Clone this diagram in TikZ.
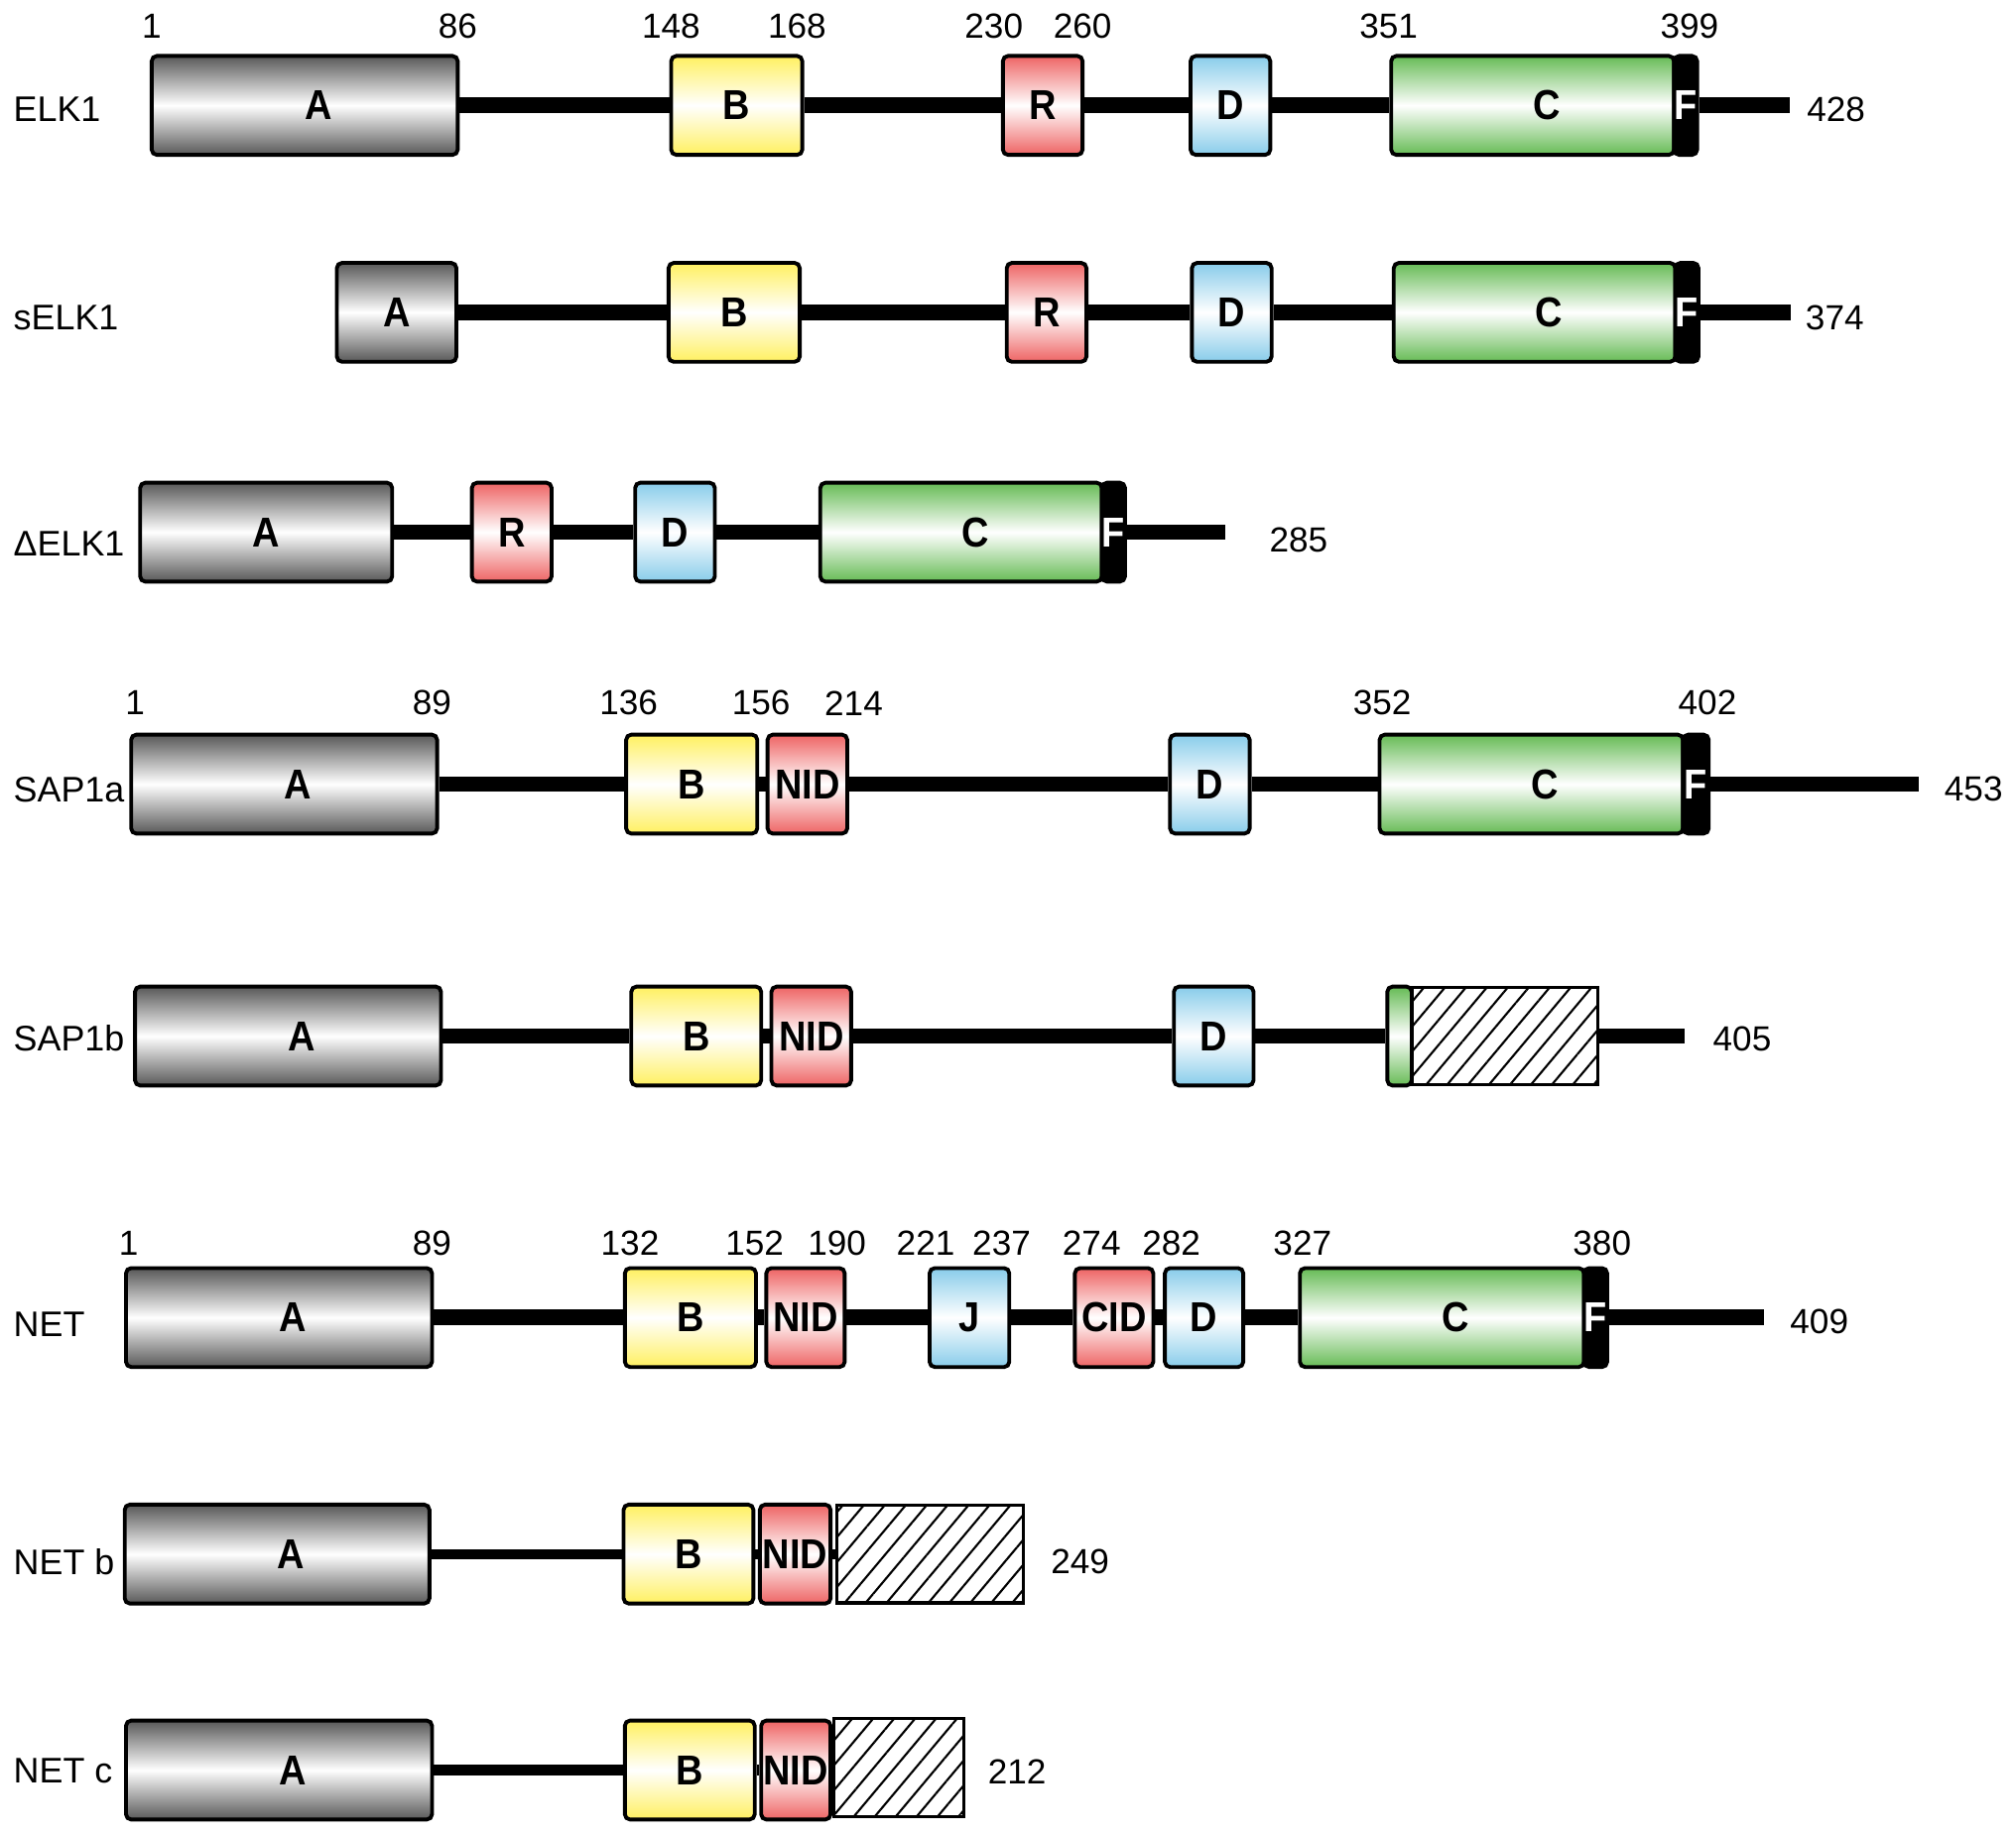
\documentclass[tikz,border=0pt]{standalone}
\usepackage{fontspec}
\setmainfont{Liberation Sans}
\newfontfamily\boxfont[FakeStretch=0.9]{Liberation Sans}
\usepackage{tikz}
\usetikzlibrary{patterns.meta}
\newcommand{\upx}{0.01296cm}
\newcommand{\sh}[1]{\hspace*{8pt}#1}
\definecolor{cA}{HTML}{585858}
\definecolor{cB}{HTML}{FFF060}
\definecolor{cR}{HTML}{EE6464}
\definecolor{cD}{HTML}{88CCEA}
\definecolor{cC}{HTML}{66BB55}

\begin{document}
\begin{tikzpicture}[x=\upx,y=-\upx,
  dom/.style={draw,line width=1.1pt,rounded corners=1.5pt,inner sep=0pt,minimum height=77*\upx,
              top color=#1,bottom color=#1,middle color=white,font=\boxfont\bfseries\fontsize{12}{14}\selectfont},
  fbar/.style={draw,fill=black,line width=1.1pt,rounded corners=1.5pt,inner sep=0pt,minimum height=77*\upx,
               minimum width=18*\upx,text=white,font=\boxfont\bfseries\fontsize{12}{14}\selectfont},
  hatch/.style={draw,line width=0.9pt,inner sep=0pt,minimum height=76*\upx,
                pattern={Lines[angle=50,distance=4.6pt,line width=0.6pt]}},
  bb/.style={line width=4.5pt},
  bbt/.style={line width=3pt},
  lbl/.style={anchor=west,font=\fontsize{10.2}{12}\selectfont},
  num/.style={font=\fontsize{10}{12}\selectfont}]
  \useasboundingbox (0,0) rectangle (1568,1428);
  % ELK1
  \node[lbl] (l1) at (1,85) {ELK1};
  \foreach \n/\c/\a/\b/\t in {a1/cA/118/356/\sh{A},b1/cB/522/624/B,r1/cR/780/842/R,d1/cD/926/988/D,c1/cC/1082/1302/\sh{C}}
    \node[dom=\c,minimum width={(\b-\a)*\upx}] (\n) at ({(\a+\b)/2},82) {\t};
  \node[fbar] (f1) at (1311,82) {F};
  \coordinate (e1) at (1392,82);
  \foreach \p/\q in {a1/b1,b1/r1,r1/d1,d1/c1,f1/e1} \draw[bb] (\p) -- (\q);
  \foreach \x/\t in {118/1,356/86,522/148,620/168,773/230,842/260,1080/351,1314/399}
    \node[num] (n1-\t) at (\x,20) {\t};
  \node[num] (z1) at (1428,85) {428};
  % sELK1
  \node[lbl] (l2) at (1,247) {sELK1};
  \foreach \n/\c/\a/\b/\t in {a2/cA/262/355/A,b2/cB/520/622/B,r2/cR/783/845/R,d2/cD/927/989/D,c2/cC/1084/1303/\sh{C}}
    \node[dom=\c,minimum width={(\b-\a)*\upx}] (\n) at ({(\a+\b)/2},243) {\t};
  \node[fbar] (f2) at (1312,243) {F};
  \coordinate (e2) at (1393,243);
  \foreach \p/\q in {a2/b2,b2/r2,r2/d2,d2/c2,f2/e2} \draw[bb] (\p) -- (\q);
  \node[num] (z2) at (1427,247) {374};
  % dELK1
  \node[lbl] (l3) at (1,423) {ΔELK1};
  \foreach \n/\c/\a/\b/\t in {a3/cA/109/305/A,r3/cR/367/429/R,d3/cD/494/556/D,c3/cC/638/857/\sh{C}}
    \node[dom=\c,minimum width={(\b-\a)*\upx}] (\n) at ({(\a+\b)/2},414) {\t};
  \node[fbar] (f3) at (866,414) {F};
  \coordinate (e3) at (953,414);
  \foreach \p/\q in {a3/r3,r3/d3,d3/c3,f3/e3} \draw[bb] (\p) -- (\q);
  \node[num] (z3) at (1010,420) {285};
  % SAP1a
  \node[lbl] (l4) at (1,614) {SAP1a};
  \foreach \n/\c/\a/\b/\t in {a4/cA/102/340/\sh{A},b4/cB/487/589/B,i4/cR/597/659/NID,d4/cD/910/972/D,c4/cC/1073/1309/\sh{C}}
    \node[dom=\c,minimum width={(\b-\a)*\upx}] (\n) at ({(\a+\b)/2},610) {\t};
  \node[fbar,minimum width=20*\upx] (f4) at (1319,610) {F};
  \coordinate (e4) at (1492,610);
  \foreach \p/\q in {a4/b4,b4/i4,i4/d4,d4/c4,f4/e4} \draw[bb] (\p) -- (\q);
  \foreach \x/\t in {105/1,336/89,489/136,592/156,664/214,1075/352,1328/402}
    \node[num] (n4-\t) at (\x,547) {\t};
  \node[num] (z4) at (1535,614) {453};
  % SAP1b
  \node[lbl] (l5) at (1,808) {SAP1b};
  \foreach \n/\c/\a/\b/\t in {a5/cA/105/343/\sh{A},b5/cB/491/592/B,i5/cR/600/662/NID,d5/cD/913/975/D,c5/cC/1079/1098/}
    \node[dom=\c,minimum width={(\b-\a)*\upx}] (\n) at ({(\a+\b)/2},806) {\t};
  \node[hatch,minimum width=145*\upx] (h5) at (1170.5,806) {};
  \coordinate (e5) at (1310,806);
  \foreach \p/\q in {a5/b5,b5/i5,i5/d5,d5/c5,h5/e5} \draw[bb] (\p) -- (\q);
  \node[num] (z5) at (1355,808) {405};
  % NET
  \node[lbl] (l6) at (1,1030) {NET};
  \foreach \n/\c/\a/\b/\t in {a6/cA/98/336/\sh{A},b6/cB/486/588/B,i6/cR/596/657/NID,j6/cD/723/785/J,k6/cR/836/897/CID,d6/cD/906/967/D,c6/cC/1011/1232/\sh{C}}
    \node[dom=\c,minimum width={(\b-\a)*\upx}] (\n) at ({(\a+\b)/2},1025) {\t};
  \node[fbar] (f6) at (1241,1025) {F};
  \coordinate (e6) at (1372,1025);
  \foreach \p/\q in {a6/b6,b6/i6,i6/j6,j6/k6,k6/d6,d6/c6,f6/e6} \draw[bb] (\p) -- (\q);
  \foreach \x/\t in {100/1,336/89,490/132,587/152,651/190,720/221,779/237,849/274,911/282,1013/327,1246/380}
    \node[num] (n6-\t) at (\x,967) {\t};
  \node[num] (z6) at (1415,1028) {409};
  % NET b
  \node[lbl] (l7) at (1,1215) {NET b};
  \foreach \n/\c/\a/\b/\t in {a7/cA/97/334/\sh{A},b7/cB/485/586/B,i7/cR/591/646/NID}
    \node[dom=\c,minimum width={(\b-\a)*\upx}] (\n) at ({(\a+\b)/2},1209) {\t};
  \node[hatch,minimum width=145*\upx] (h7) at (723.5,1209) {};
  \foreach \p/\q in {a7/b7,b7/i7,i7/h7} \draw[bbt] (\p) -- (\q);
  \node[num] (z7) at (840,1215) {249};
  % NET c
  \node[lbl] (l8) at (1,1378) {NET c};
  \foreach \n/\c/\a/\b/\t in {a8/cA/98/336/\sh{A},b8/cB/486/587/B,i8/cR/592/646/NID}
    \node[dom=\c,minimum width={(\b-\a)*\upx}] (\n) at ({(\a+\b)/2},1377) {\t};
  \node[hatch,minimum width=101*\upx] (h8) at (699,1375) {};
  \foreach \p/\q in {a8/b8,b8/i8} \draw[bbt] (\p) -- (\q);
  \node[num] (z8) at (791,1378) {212};
\end{tikzpicture}
\end{document}
